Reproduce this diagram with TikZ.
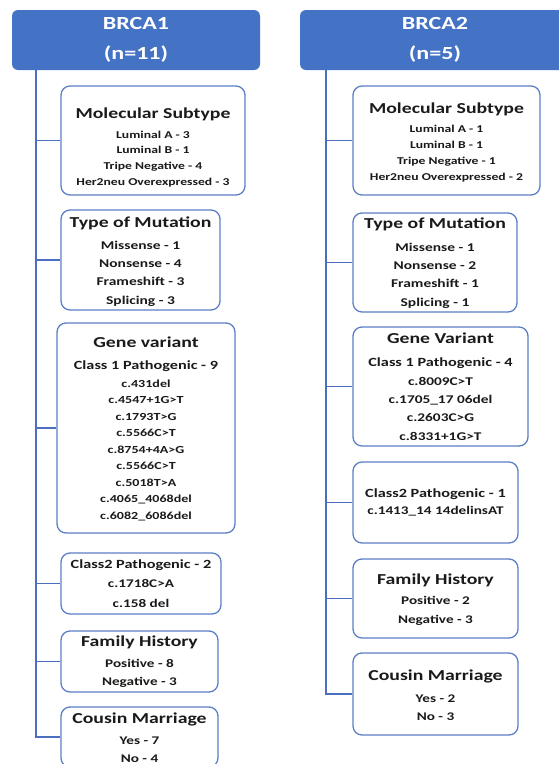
\documentclass[tikz,border=0pt]{standalone}
\usepackage{fontspec}
\setmainfont{Carlito}[FakeStretch=1.3]
\definecolor{hdr}{HTML}{4472C4}
\definecolor{bord}{HTML}{5B7FC6}
\definecolor{lnkc}{HTML}{4A6FBE}
\definecolor{ink}{HTML}{1A1A1A}
\newcommand\mystrut{\rule{0pt}{13pt}}
\newcommand\ttlfnt{\fontsize{15.2pt}{18pt}\selectfont\bfseries}
\newcommand\clsfnt{\fontsize{12.5pt}{15pt}\selectfont\bfseries}
\tikzset{
  hdrbox/.style={fill=hdr, rounded corners=6pt, text=white, align=center, inner sep=0pt,
    font=\fontsize{18.5pt}{29.5pt}\selectfont\bfseries},
  box/.style={draw=bord, line width=1.3pt, rounded corners=9pt, fill=white, inner sep=0pt},
  lnk/.style={draw=lnkc, line width=1.5pt},
  txt/.style={anchor=north, align=center, inner sep=0pt, text=ink},
}
\begin{document}
\begin{tikzpicture}[x=1pt,y=-1pt]
\useasboundingbox (0,0) rectangle (559,764);
\clip (0,0) rectangle (559,764);
% headers
\node[hdrbox, minimum width=248pt, minimum height=60pt] (h1) at (136,40) {BRCA1\\(n=11)};
\node[hdrbox, minimum width=270pt, minimum height=60pt] (h2) at (435,40) {BRCA2\\(n=5)};
% left boxes
\node[box, minimum width=184pt, minimum height=109pt] (m1) at (153,140.5) {};
\node[box, minimum width=159pt, minimum height=100pt] (t1) at (140.5,260) {};
\node[box, minimum width=178pt, minimum height=210pt] (g1) at (146,428) {};
\node[box, minimum width=160pt, minimum height=61pt] (c1) at (141,583.5) {};
\node[box, minimum width=157pt, minimum height=61pt] (f1) at (139.5,661.5) {};
\node[box, minimum width=157pt, minimum height=60pt] (k1) at (139.5,737) {};
% right boxes
\node[box, minimum width=187pt, minimum height=109pt] (m2) at (446.5,140.5) {};
\node[box, minimum width=164pt, minimum height=99pt] (t2) at (435,262.5) {};
\node[box, minimum width=175pt, minimum height=119pt] (g2) at (440.5,386.5) {};
\node[box, minimum width=165pt, minimum height=81pt] (c2) at (435.5,502.5) {};
\node[box, minimum width=165pt, minimum height=79pt] (f2) at (435.5,598.5) {};
\node[box, minimum width=165pt, minimum height=82pt] (k2) at (435.5,694) {};
% connectors
\coordinate (s1) at (36,737);
\coordinate (s2) at (326,694);
\draw[lnk] (h1.south -| s1) -- (s1) -- (k1.west);
\foreach \b in {m1,t1,g1,c1,f1} \draw[lnk] (\b.west -| s1) -- (\b.west);
\draw[lnk] (h2.south -| s2) -- (s2) -- (k2.west);
\foreach \b in {m2,t2,g2,c2,f2} \draw[lnk] (\b.west -| s2) -- (\b.west);
% left texts
\node[txt, font=\fontsize{10.5pt}{15.7pt}\selectfont\bfseries] (m1t) at (153,105)
  {{\ttlfnt\mystrut Molecular Subtype}\\[4.3pt] Luminal A - 3\\ Luminal B - 1\\ Tripe Negative - 4\\ Her2neu Overexpressed - 3};
\node[txt, font=\fontsize{11.9pt}{18.3pt}\selectfont\bfseries] (t1t) at (140.5,214)
  {{\ttlfnt\mystrut Type of Mutation}\\[3.7pt] Missense - 1\\ Nonsense - 4\\ Frameshift - 3\\ Splicing - 3};
\node[txt, font=\fontsize{10.8pt}{16.5pt}\selectfont\bfseries] (g1t) at (146,334)
  {{\ttlfnt\mystrut Gene variant}\\[5.5pt] {\clsfnt Class 1 Pathogenic - 9}\\[1.5pt] c.431del\\ c.4547+1G>T\\ c.1793T>G\\ c.5566C>T\\ c.8754+4A>G\\ c.5566C>T\\ c.5018T>A\\ c.4065\_4068del\\ c.6082\_6086del};
\node[txt, font=\fontsize{11.7pt}{19.5pt}\selectfont\bfseries] (c1t) at (141,555)
  {{\clsfnt\mystrut Class2 Pathogenic - 2}\\ c.1718C>A\\ c.158 del};
\node[txt, font=\fontsize{11.7pt}{18pt}\selectfont\bfseries] (f1t) at (139.5,633)
  {{\ttlfnt\mystrut Family History}\\[3pt] Positive - 8\\ Negative - 3};
\node[txt, font=\fontsize{11.7pt}{18pt}\selectfont\bfseries] (k1t) at (139.5,710)
  {{\ttlfnt\mystrut Cousin Marriage}\\[3pt] Yes - 7\\ No - 4};
% right texts
\node[txt, font=\fontsize{10.5pt}{16pt}\selectfont\bfseries] (m2t) at (446.5,100)
  {{\ttlfnt\mystrut Molecular Subtype}\\[3pt] Luminal A - 1\\ Luminal B - 1\\ Tripe Negative - 1\\ Her2neu Overexpressed - 2};
\node[txt, font=\fontsize{11.9pt}{18.3pt}\selectfont\bfseries] (t2t) at (435,215)
  {{\ttlfnt\mystrut Type of Mutation}\\[4.7pt] Missense - 1\\ Nonsense - 2\\ Frameshift - 1\\ Splicing - 1};
\node[txt, font=\fontsize{11.8pt}{18.3pt}\selectfont\bfseries] (g2t) at (440.5,330)
  {{\ttlfnt\mystrut Gene Variant}\\[4.7pt] {\clsfnt Class 1 Pathogenic - 4}\\[0.7pt] c.8009C>T\\ c.1705\_17 06del\\ c.2603C>G\\ c.8331+1G>T};
\node[txt, font=\fontsize{11.7pt}{17pt}\selectfont\bfseries] (c2t) at (435.5,484)
  {{\clsfnt\mystrut Class2 Pathogenic - 1}\\ c.1413\_14 14delinsAT};
\node[txt, font=\fontsize{11.7pt}{19pt}\selectfont\bfseries] (f2t) at (435.5,571)
  {{\ttlfnt\mystrut Family History}\\[1pt] Positive - 2\\ Negative - 3};
\node[txt, font=\fontsize{11.7pt}{18pt}\selectfont\bfseries] (k2t) at (435.5,667)
  {{\ttlfnt\mystrut Cousin Marriage}\\[4pt] Yes - 2\\ No - 3};
\end{tikzpicture}
\end{document}
